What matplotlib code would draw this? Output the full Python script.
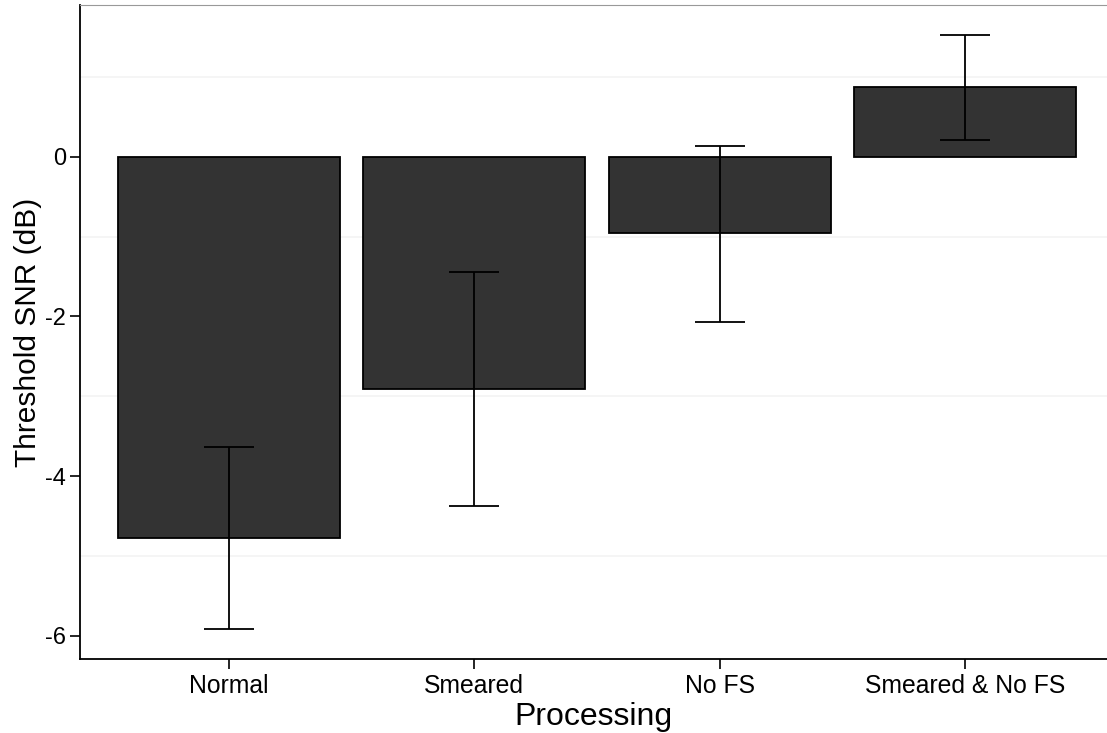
import matplotlib
matplotlib.use("Agg")
import matplotlib.pyplot as plt

# data
conditions = ["Normal", "Smeared", "No FS", "Smeared & No FS"]
mean_snr = [-4.78, -2.91, -0.95, 0.87]
err_low = [-5.92, -4.37, -2.07, 0.21]
err_high = [-3.63, -1.44, 0.13, 1.53]
y_ticks = [-6, -4, -2, 0]
grid_lines = [-5, -3, -1, 1]

plt.rcParams["font.family"] = ["Liberation Sans", "DejaVu Sans"]

fig = plt.figure(figsize=(11.07, 7.33), dpi=100)
ax = fig.add_axes([0.0723, 0.101, 0.9277, 0.892])

x = list(range(len(conditions)))
yerr = [[m - lo for m, lo in zip(mean_snr, err_low)],
        [hi - m for m, hi in zip(mean_snr, err_high)]]

ax.bar(x, mean_snr, width=0.905, color="#333333", edgecolor="black",
       linewidth=1.3, zorder=2)
ax.errorbar(x, mean_snr, yerr=yerr, fmt="none", ecolor="black",
            elinewidth=1.3, capsize=18, capthick=1.3, zorder=3)

ax.set_xlim(-0.607, 3.579)
ax.set_ylim(-6.29, 1.90)
ax.set_xticks(x)
ax.set_xticklabels(conditions)
ax.set_yticks(y_ticks)
ax.set_yticklabels([str(t) for t in y_ticks])
ax.set_yticks(grid_lines, minor=True)
ax.yaxis.grid(True, which="minor", color="#f4f4f4", linewidth=1.2, zorder=0)
ax.tick_params(axis="y", which="minor", length=0)
ax.tick_params(axis="both", which="major", length=7,
               width=1.2, direction="out", pad=3)
ax.tick_params(axis="x", which="major", labelsize=17.8, pad=4)
ax.tick_params(axis="y", which="major", labelsize=17)
ax.set_axisbelow(True)

ax.spines["right"].set_visible(False)
ax.spines["top"].set_color("#999999")
ax.spines["left"].set_linewidth(1.3)
ax.spines["bottom"].set_linewidth(1.3)

ax.set_xlabel("Processing", fontsize=23, labelpad=3)
ax.set_ylabel("Threshold SNR (dB)", fontsize=21.5, labelpad=2)

fig.savefig("out.png", dpi=100)
